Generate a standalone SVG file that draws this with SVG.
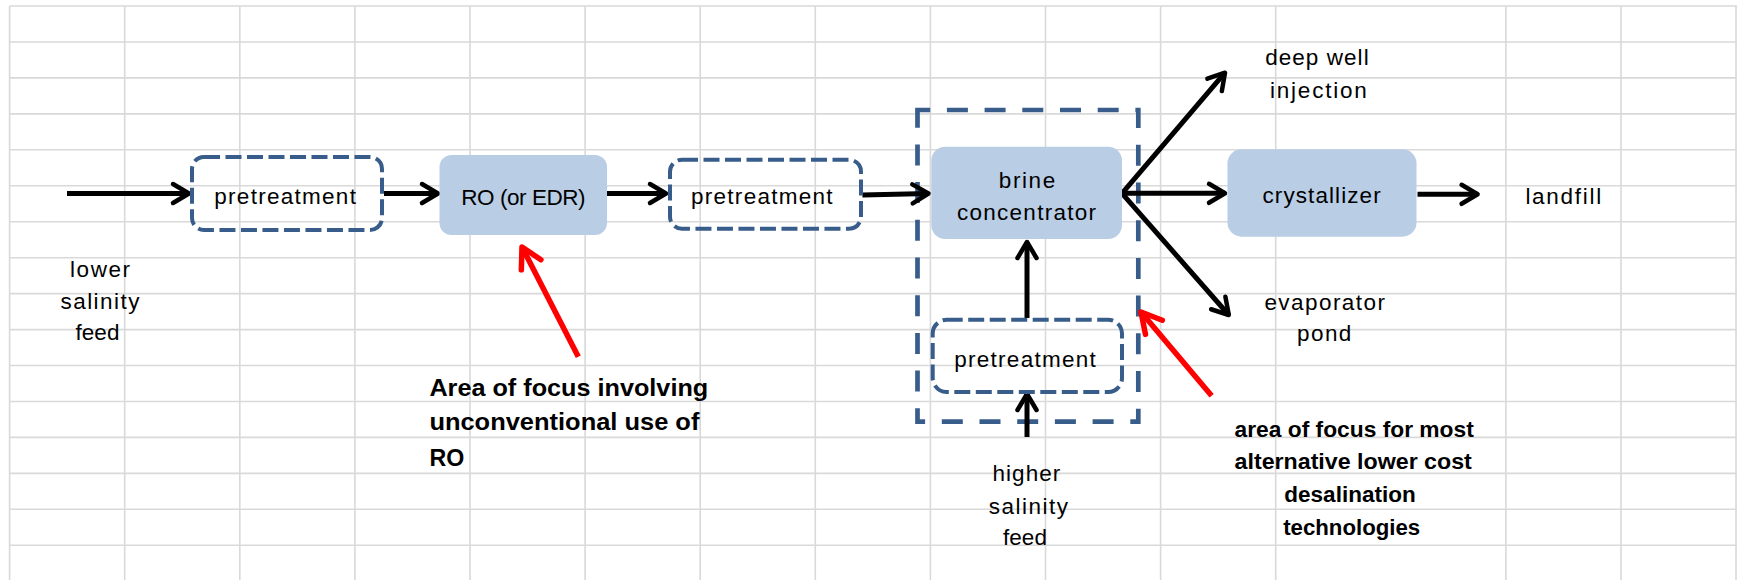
<svg xmlns="http://www.w3.org/2000/svg" width="1737" height="580" viewBox="0 0 1737 580">
<style>
.grid line{stroke:#d9d9d9;stroke-width:1.6}
.t{font-family:"Liberation Sans",Arial,sans-serif;font-size:22.5px;fill:#000;text-anchor:middle}
.bl{font-family:"Liberation Sans",Arial,sans-serif;font-size:24px;font-weight:bold;fill:#000}
.br{font-family:"Liberation Sans",Arial,sans-serif;font-size:22px;font-weight:bold;fill:#000;text-anchor:middle}
.dash{fill:none;stroke:#385d8a;stroke-width:4;stroke-dasharray:16 5.5}
.bigdash{fill:none;stroke:#385d8a;stroke-width:4.7;stroke-dasharray:21 16.7}
.box{fill:#b9cde5;stroke:none}
.k{fill:none;stroke:#000;stroke-width:5;marker-end:url(#ah)}
.r{fill:none;stroke:#ff0000;stroke-width:5.5;marker-end:url(#ahr)}
</style>
<defs>
<marker id="ah" markerUnits="userSpaceOnUse" viewBox="-22 -14 26 28" markerWidth="26" markerHeight="28" refX="0" refY="0" orient="auto" overflow="visible">
<path d="M-16,-9.5 L0,0 L-16,9.5" fill="none" stroke="#000" stroke-width="4.5" stroke-linecap="round" stroke-linejoin="round"/>
</marker>
<marker id="ahr" markerUnits="userSpaceOnUse" viewBox="-26 -16 30 32" markerWidth="30" markerHeight="32" refX="0" refY="0" orient="auto" overflow="visible">
<path d="M-20,-11 L0,0 L-20,11" fill="none" stroke="#ff0000" stroke-width="5.5" stroke-linecap="round" stroke-linejoin="round"/>
</marker>
</defs>
<rect x="0" y="0" width="1737" height="580" fill="#ffffff"/>
<g class="grid">
<line x1="9.6" y1="6" x2="9.6" y2="580"/>
<line x1="124.7" y1="6" x2="124.7" y2="580"/>
<line x1="239.8" y1="6" x2="239.8" y2="580"/>
<line x1="354.9" y1="6" x2="354.9" y2="580"/>
<line x1="470" y1="6" x2="470" y2="580"/>
<line x1="585.1" y1="6" x2="585.1" y2="580"/>
<line x1="700.2" y1="6" x2="700.2" y2="580"/>
<line x1="815.3" y1="6" x2="815.3" y2="580"/>
<line x1="930.4" y1="6" x2="930.4" y2="580"/>
<line x1="1045.5" y1="6" x2="1045.5" y2="580"/>
<line x1="1160.6" y1="6" x2="1160.6" y2="580"/>
<line x1="1275.7" y1="6" x2="1275.7" y2="580"/>
<line x1="1505.9" y1="6" x2="1505.9" y2="580"/>
<line x1="1621" y1="6" x2="1621" y2="580"/>
<line x1="1736" y1="6" x2="1736" y2="580"/>
<line x1="9.6" y1="6" x2="1737" y2="6"/>
<line x1="9.6" y1="42" x2="1737" y2="42"/>
<line x1="9.6" y1="77.9" x2="1737" y2="77.9"/>
<line x1="9.6" y1="113.9" x2="1737" y2="113.9"/>
<line x1="9.6" y1="149.8" x2="1737" y2="149.8"/>
<line x1="9.6" y1="185.8" x2="1737" y2="185.8"/>
<line x1="9.6" y1="221.7" x2="1737" y2="221.7"/>
<line x1="9.6" y1="257.7" x2="1737" y2="257.7"/>
<line x1="9.6" y1="293.6" x2="1737" y2="293.6"/>
<line x1="9.6" y1="329.6" x2="1737" y2="329.6"/>
<line x1="9.6" y1="365.5" x2="1737" y2="365.5"/>
<line x1="9.6" y1="401.5" x2="1737" y2="401.5"/>
<line x1="9.6" y1="437.4" x2="1737" y2="437.4"/>
<line x1="9.6" y1="473.4" x2="1737" y2="473.4"/>
<line x1="9.6" y1="509.3" x2="1737" y2="509.3"/>
<line x1="9.6" y1="545.3" x2="1737" y2="545.3"/>
</g>
<g id="focus-region">
<path class="bigdash" d="M917.5,118.3 V110 H1138.3 V421.7 H917.5 Z"/>
</g>
<g id="connectors">
<line class="k" x1="67" y1="193.5" x2="189" y2="193.5"/>
<line class="k" x1="384" y1="193.5" x2="438" y2="193.5"/>
<line class="k" x1="607" y1="193.5" x2="666" y2="193.5"/>
<line class="k" x1="862.4" y1="195" x2="928.5" y2="193.5"/>
<line class="k" x1="1027" y1="318" x2="1027" y2="242"/>
<line class="k" x1="1027" y1="437" x2="1027" y2="394"/>
<line class="k" x1="1122" y1="193.3" x2="1225" y2="72.7"/>
<line class="k" x1="1122" y1="193.3" x2="1225" y2="193.3"/>
<line class="k" x1="1122" y1="193.3" x2="1228.8" y2="315"/>
<line class="k" x1="1417.5" y1="194.3" x2="1477.6" y2="194.3"/>
<line class="r" x1="578.3" y1="356.7" x2="522" y2="247"/>
<line class="r" x1="1211.6" y1="395.7" x2="1141" y2="312"/>
</g>
<g id="pretreatment-1">
<rect class="dash" x="192" y="157" width="190" height="73" rx="12"/>
<text class="t" x="285.1" y="204" textLength="141.6" lengthAdjust="spacing">pretreatment</text>
</g>
<g id="ro">
<rect class="box" x="439.5" y="155" width="167.5" height="80" rx="12"/>
<text class="t" x="523.4" y="205" textLength="124.3" lengthAdjust="spacing">RO (or EDR)</text>
</g>
<g id="pretreatment-2">
<rect class="dash" x="670" y="159.7" width="191" height="69" rx="12"/>
<text class="t" x="761.8" y="204" textLength="141.6" lengthAdjust="spacing">pretreatment</text>
</g>
<g id="brine-concentrator">
<rect class="box" x="931.3" y="146.7" width="190.7" height="92.3" rx="14"/>
<text class="t" x="1027" y="188.3" textLength="56.3" lengthAdjust="spacing">brine</text>
<text class="t" x="1026.5" y="220" textLength="139" lengthAdjust="spacing">concentrator</text>
</g>
<g id="pretreatment-3">
<rect class="dash" x="932.7" y="319.7" width="189.3" height="72.3" rx="14"/>
<text class="t" x="1025" y="366.7" textLength="141.6" lengthAdjust="spacing">pretreatment</text>
</g>
<g id="crystallizer">
<rect class="box" x="1227.5" y="149.3" width="189" height="87.4" rx="14"/>
<text class="t" x="1321.6" y="202.7" textLength="118.2" lengthAdjust="spacing">crystallizer</text>
</g>
<g id="lower-salinity-feed">
<text class="t" x="100" y="276.7" textLength="60" lengthAdjust="spacing">lower</text>
<text class="t" x="100" y="309.3" textLength="79.2" lengthAdjust="spacing">salinity</text>
<text class="t" x="97.4" y="340" textLength="44" lengthAdjust="spacing">feed</text>
</g>
<g id="higher-salinity-feed">
<text class="t" x="1026.4" y="480.7" textLength="67.8" lengthAdjust="spacing">higher</text>
<text class="t" x="1028.4" y="514" textLength="79.3" lengthAdjust="spacing">salinity</text>
<text class="t" x="1024.9" y="545" textLength="44" lengthAdjust="spacing">feed</text>
</g>
<g id="deep-well-injection">
<text class="t" x="1316.9" y="65" textLength="103.5" lengthAdjust="spacing">deep well</text>
<text class="t" x="1318.4" y="97.7" textLength="96.6" lengthAdjust="spacing">injection</text>
</g>
<g id="evaporator-pond">
<text class="t" x="1324.7" y="310" textLength="120.6" lengthAdjust="spacing">evaporator</text>
<text class="t" x="1324.2" y="341" textLength="54.3" lengthAdjust="spacing">pond</text>
</g>
<g id="landfill">
<text class="t" x="1563.3" y="204" textLength="75.8" lengthAdjust="spacing">landfill</text>
</g>
<g id="note-ro">
<text class="bl" x="429.4" y="395.7" textLength="278.8" lengthAdjust="spacingAndGlyphs">Area of focus involving</text>
<text class="bl" x="429.4" y="430" textLength="270" lengthAdjust="spacingAndGlyphs">unconventional use of</text>
<text class="bl" x="429.4" y="465.5" textLength="34.8" lengthAdjust="spacingAndGlyphs">RO</text>
</g>
<g id="note-alternative">
<text class="br" x="1354.2" y="437.3" textLength="239.2" lengthAdjust="spacingAndGlyphs">area of focus for most</text>
<text class="br" x="1353.2" y="469.3" textLength="237.3" lengthAdjust="spacingAndGlyphs">alternative lower cost</text>
<text class="br" x="1350" y="502.3" textLength="131.3" lengthAdjust="spacingAndGlyphs">desalination</text>
<text class="br" x="1351.7" y="535" textLength="137" lengthAdjust="spacingAndGlyphs">technologies</text>
</g>
</svg>
